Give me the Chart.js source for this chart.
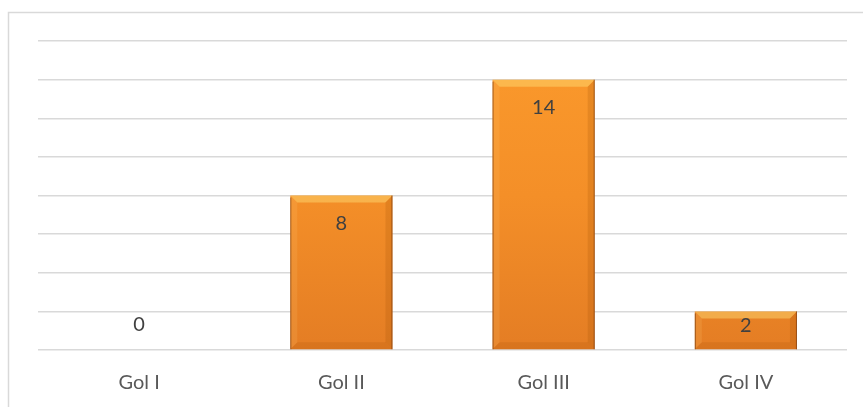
<!DOCTYPE html>
<html>
<head>
<meta charset="utf-8">
<script src="https://cdn.jsdelivr.net/npm/chart.js@4"></script>
<style>
  html, body { margin: 0; padding: 0; background: #fff; }
  #wrap { width: 863px; height: 407px; }
</style>
</head>
<body>
<div id="wrap"><canvas id="barChart"></canvas></div>
<script>
// chart data
const categories = ["Gol I", "Gol II", "Gol III", "Gol IV"];
const counts = [0, 8, 14, 2];
const yMax = 16;
const yStep = 2;

// frame around the whole chart
const framePlugin = {
  id: "frame",
  beforeDraw(chart) {
    const c = chart.ctx;
    c.save();
    c.strokeStyle = "#d9d9d9";
    c.lineWidth = 1.5;
    c.strokeRect(8.5, 12.5, chart.width + 20, chart.height + 20);
    c.restore();
  }
};

// bevelled bar edges, drawn on the bars the library laid out
const bevelPlugin = {
  id: "bevel",
  afterDatasetDraw(chart, args) {
    const c = chart.ctx;
    args.meta.data.forEach(bar => {
      const h = bar.base - bar.y;
      if (h <= 1) return;
      const l = bar.x - bar.width / 2, r = bar.x + bar.width / 2;
      const t = bar.y, b = bar.base;
      const s = Math.min(7, h / 2);
      c.save();
      // top
      c.fillStyle = "rgba(255,225,120,0.45)";
      c.beginPath();
      c.moveTo(l, t); c.lineTo(r, t); c.lineTo(r - s, t + s); c.lineTo(l + s, t + s);
      c.closePath(); c.fill();
      // left
      c.fillStyle = "rgba(255,210,130,0.15)";
      c.beginPath();
      c.moveTo(l, t); c.lineTo(l + s, t + s); c.lineTo(l + s, b - s); c.lineTo(l, b);
      c.closePath(); c.fill();
      // right
      c.fillStyle = "rgba(150,70,0,0.18)";
      c.beginPath();
      c.moveTo(r, t); c.lineTo(r - s, t + s); c.lineTo(r - s, b - s); c.lineTo(r, b);
      c.closePath(); c.fill();
      // bottom
      c.fillStyle = "rgba(150,70,0,0.15)";
      c.beginPath();
      c.moveTo(l, b); c.lineTo(r, b); c.lineTo(r - s, b - s); c.lineTo(l + s, b - s);
      c.closePath(); c.fill();
      // thin dark sides
      c.strokeStyle = "rgba(110,50,10,0.6)";
      c.lineWidth = 1;
      c.beginPath();
      c.moveTo(r - 0.5, t); c.lineTo(r - 0.5, b);
      c.moveTo(l + 0.5, t + 2); c.lineTo(l + 0.5, b);
      c.stroke();
      c.restore();
    });
  }
};

// value labels (inside end)
const labelPlugin = {
  id: "valueLabels",
  afterDatasetsDraw(chart) {
    const c = chart.ctx;
    const meta = chart.getDatasetMeta(0);
    c.save();
    c.font = "20px Lato, sans-serif";
    c.fillStyle = "#404040";
    c.textAlign = "center";
    c.textBaseline = "middle";
    meta.data.forEach((bar, i) => {
      const h = bar.base - bar.y;
      let y;
      if (h < 2) y = bar.base - 25;
      else if (h > 60) y = bar.y + 28;
      else y = bar.y + h / 2 - 5;
      c.fillText(String(counts[i]), bar.x, y);
    });
    c.restore();
  }
};

const ctx = document.getElementById("barChart").getContext("2d");

new Chart(ctx, {
  type: "bar",
  data: {
    labels: categories,
    datasets: [
      {
        label: "Jumlah",
        data: counts,
        backgroundColor: context => {
          const area = context.chart.chartArea;
          if (!area) return "#f7931e";
          const g = context.chart.ctx.createLinearGradient(0, area.top, 0, area.bottom);
          g.addColorStop(0, "#fb9a2c");
          g.addColorStop(0.5, "#f48f28");
          g.addColorStop(1, "#e47d24");
          return g;
        },
        borderWidth: 0,
        barPercentage: 0.505,
        categoryPercentage: 1
      }
    ]
  },
  options: {
    responsive: true,
    maintainAspectRatio: false,
    animation: false,
    layout: { padding: { left: 38, right: 16, top: 41, bottom: 0 } },
    plugins: {
      legend: { display: false },
      tooltip: { enabled: false }
    },
    scales: {
      y: {
        min: 0,
        max: yMax,
        ticks: { display: false, stepSize: yStep },
        border: { display: false },
        grid: { color: "#d9d9d9", lineWidth: 1.5, drawTicks: false },
        afterFit: s => { s.width = 0; }
      },
      x: {
        grid: { display: false },
        border: { display: false },
        ticks: {
          color: "#595959",
          font: { family: "Lato, sans-serif", size: 20 },
          padding: 13
        },
        afterFit: s => { s.height = 57; }
      }
    }
  },
  plugins: [framePlugin, bevelPlugin, labelPlugin]
});
</script>
</body>
</html>
